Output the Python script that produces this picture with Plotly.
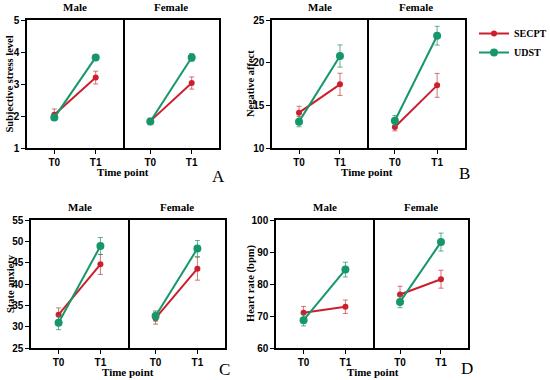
import plotly.graph_objects as go

W, H = 550, 380

time_points = ["T0", "T1"]
groups = ["Male", "Female"]
panel_letters = ["A", "B", "C", "D"]
measures = ["Subjective stress level", "Negative affect", "State anxiety", "Heart rate (bpm)"]
y_ranges = [[1, 5], [10, 25], [25, 55], [60, 100]]
y_dticks = [1, 5, 5, 10]

# means and SEM, per measure: [T0, T1]
secpt_male_mean = [[2.04, 3.20], [14.14, 17.46], [32.8, 44.6], [71.0, 72.9]]
secpt_male_err = [[0.18, 0.20], [0.75, 1.30], [1.6, 2.35], [2.0, 2.1]]
udst_male_mean = [[1.95, 3.83], [13.09, 20.78], [30.9, 48.9], [68.7, 84.5]]
udst_male_err = [[0.08, 0.07], [0.6, 1.3], [1.6, 2.0], [1.8, 2.3]]
secpt_female_mean = [[1.84, 3.03], [12.46, 17.34], [32.0, 43.6], [76.7, 81.5]]
secpt_female_err = [[0.08, 0.19], [0.45, 1.40], [1.4, 2.7], [2.6, 2.8]]
udst_female_mean = [[1.83, 3.83], [13.20, 23.16], [32.5, 48.3], [74.4, 93.1]]
udst_female_err = [[0.10, 0.12], [0.6, 1.1], [1.2, 1.9], [1.8, 2.8]]

RED = "#CC1F2E"
GREEN = "#16976A"
RED_ERR = "rgba(200,70,70,0.75)"
GREEN_ERR = "rgba(40,150,110,0.75)"

# pixel layout of each panel: (male_left, divider, female_right, top, bottom, ytitle_x, letter_y)
panels_px = [
    (27, 123, 219, 20, 148, 8.5, 176),
    (272, 367, 465, 20, 148, 250, 173),
    (31, 128, 225, 220, 348, 10, 369),
    (276, 373, 468, 220, 348, 251, 368),
]

fig = go.Figure()
layout = dict()
ax_idx = 0
SANS = "Liberation Sans"
SERIF = "Liberation Serif"
annotations = []


def ann(x, y, text, font, **kw):
    d = dict(x=x / W, y=1 - y / H, xref="paper", yref="paper", text=text,
             showarrow=False, xanchor="center", yanchor="middle", font=font)
    d.update(kw)
    return d


for p in range(4):
    l, d, r, t, b, ytx, lty = panels_px[p]
    for g in range(2):
        ax_idx += 1
        xs = "x" if ax_idx == 1 else f"x{ax_idx}"
        ys = "y" if ax_idx == 1 else f"y{ax_idx}"
        xk = "xaxis" if ax_idx == 1 else f"xaxis{ax_idx}"
        yk = "yaxis" if ax_idx == 1 else f"yaxis{ax_idx}"
        x0, x1 = (l, d) if g == 0 else (d, r)
        layout[xk] = dict(
            domain=[x0 / W, x1 / W], anchor=ys, range=[-0.66, 1.66],
            tickvals=[0, 1], ticktext=time_points, ticks="outside", ticklen=4,
            tickwidth=1.2, tickcolor="black", automargin=False,
            showline=True, mirror=True, linecolor="black", linewidth=1.5,
            showgrid=False, zeroline=False,
            tickfont=dict(family=SANS, size=10, color="black", weight="bold"),
        )
        if g == 0:
            layout[yk] = dict(
                domain=[1 - b / H, 1 - t / H], anchor=xs, range=y_ranges[p],
                dtick=y_dticks[p], tick0=y_ranges[p][0], automargin=False,
                ticks="outside", ticklen=4, tickwidth=1.2, tickcolor="black",
                showline=True, mirror=True, linecolor="black", linewidth=1.5,
                showgrid=False, zeroline=False,
                tickfont=dict(family=SANS, size=10, color="black", weight="bold"),
            )
        else:
            layout[yk] = dict(
                domain=[1 - b / H, 1 - t / H], anchor=xs, range=y_ranges[p],
                automargin=False, side="right", ticks="", showticklabels=False,
                showline=True, mirror=False, linecolor="black", linewidth=1.5,
                showgrid=False, zeroline=False,
            )
        if g == 0:
            sm, se, um, ue = secpt_male_mean[p], secpt_male_err[p], udst_male_mean[p], udst_male_err[p]
        else:
            sm, se, um, ue = secpt_female_mean[p], secpt_female_err[p], udst_female_mean[p], udst_female_err[p]
        show = (ax_idx == 1)
        fig.add_trace(go.Scatter(
            x=[0, 1], y=sm, mode="lines+markers", name="SECPT",
            line=dict(color=RED, width=2), marker=dict(color=RED, size=6),
            error_y=dict(type="data", array=se, color=RED_ERR, thickness=1, width=2.5),
            xaxis=xs, yaxis=ys, showlegend=show, legendrank=1,
        ))
        fig.add_trace(go.Scatter(
            x=[0, 1], y=um, mode="lines+markers", name="UDST",
            line=dict(color=GREEN, width=2), marker=dict(color=GREEN, size=8),
            error_y=dict(type="data", array=ue, color=GREEN_ERR, thickness=1, width=2.5),
            xaxis=xs, yaxis=ys, showlegend=show, legendrank=2,
        ))
        annotations.append(ann((x0 + x1) / 2, t - 13, f"<b>{groups[g]}</b>",
                               dict(family=SERIF, size=11, color="black")))
    annotations.append(ann(ytx, (t + b) / 2, f"<b>{measures[p]}</b>",
                           dict(family=SERIF, size=10.5, color="black"), textangle=-90))
    annotations.append(ann(d, b + 24, "<b>Time point</b>",
                           dict(family=SERIF, size=11, color="black")))
    annotations.append(ann(r - 1, lty, panel_letters[p],
                           dict(family=SERIF, size=17, color="black")))

fig.update_layout(
    **layout,
    width=W, height=H,
    margin=dict(l=0, r=0, t=0, b=0, autoexpand=False),
    paper_bgcolor="white", plot_bgcolor="white",
    annotations=annotations,
    showlegend=True,
    legend=dict(
        x=474 / W, y=1 - 19 / H, xanchor="left", yanchor="top",
        font=dict(family=SERIF, size=10, color="black", weight="bold"),
        bgcolor="rgba(0,0,0,0)", itemwidth=30, tracegroupgap=0,
    ),
)

fig.write_html(
    "out.html",
    config={"displayModeBar": False},
    post_script="document.body.style.margin='0';document.body.style.overflow='hidden';",
)
